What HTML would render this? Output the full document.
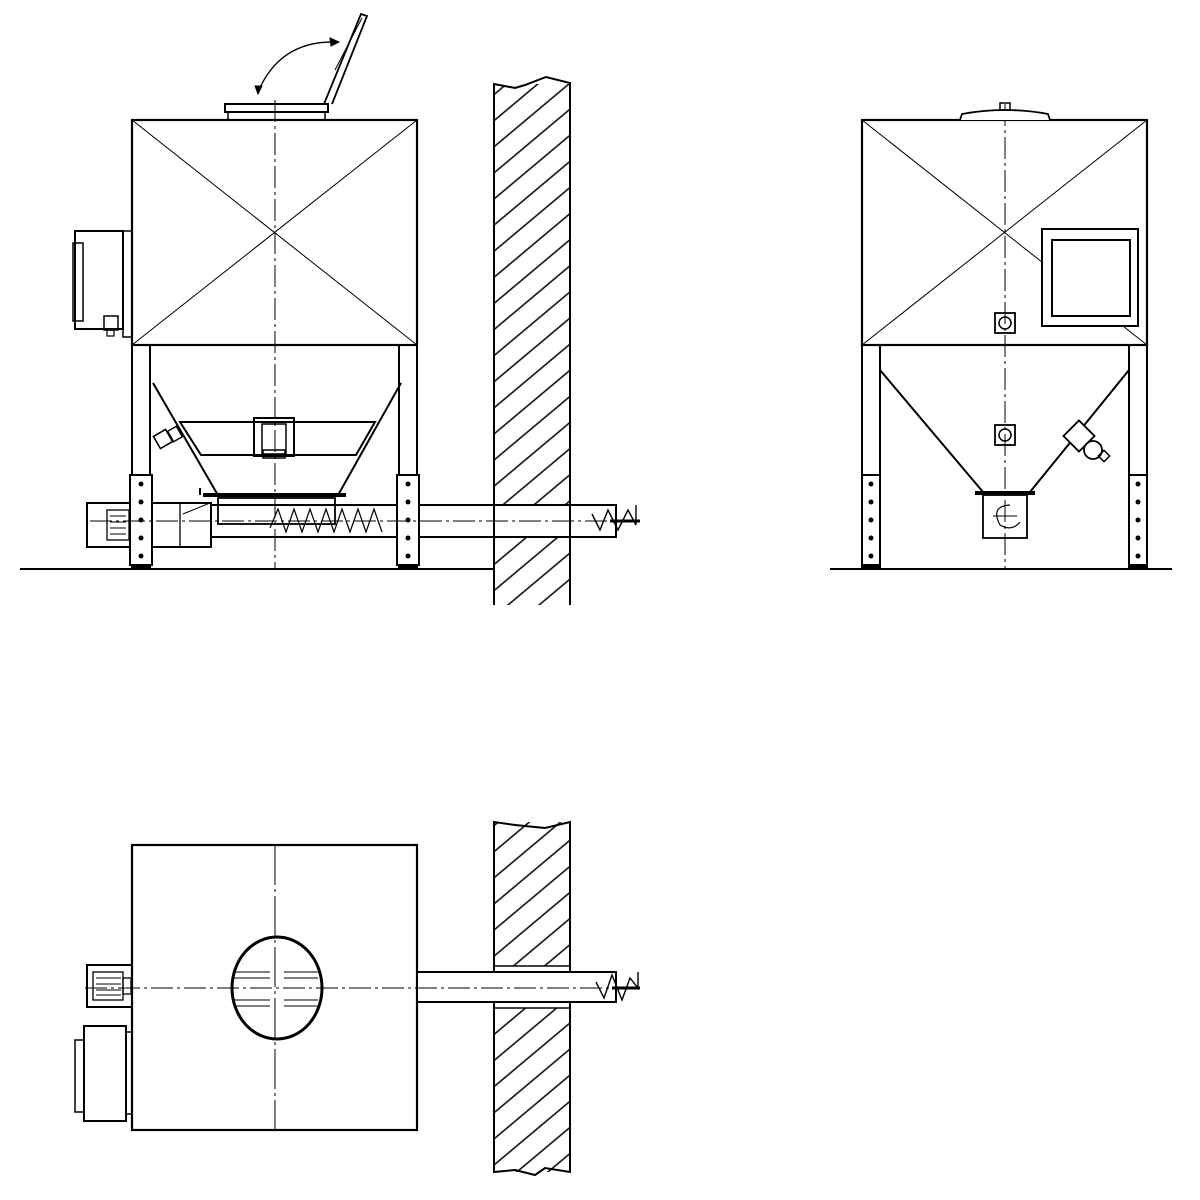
<!DOCTYPE html>
<html><head><style>html,body{margin:0;padding:0;background:#fff}svg{display:block}</style></head>
<body>
<svg width="1200" height="1200" viewBox="0 0 1200 1200" xmlns="http://www.w3.org/2000/svg" fill="none" stroke="#000" stroke-width="2">
<defs>
<pattern id="h" patternUnits="userSpaceOnUse" width="20" height="20" patternTransform="rotate(-40)">
<line x1="0" y1="10" x2="20" y2="10" stroke="#000" stroke-width="1.4"/>
</pattern>
<clipPath id="w1"><path d="M494 84 L515 88 L525 85 L546 77 L570 83 L570 605 L494 605 Z"/></clipPath>
<clipPath id="w2"><path d="M494 822 L570 822 L570 1172 L494 1172 Z"/></clipPath>
</defs>

<!-- FRONT VIEW -->
<line x1="20" y1="569" x2="494" y2="569"/>
<rect x="132" y="120" width="285" height="225" stroke-width="2.2"/>
<line x1="132" y1="120" x2="417" y2="345" stroke-width="1"/>
<line x1="417" y1="120" x2="132" y2="345" stroke-width="1"/>
<line x1="275" y1="100" x2="275" y2="570" stroke-width="1" stroke-dasharray="22 4 3 4"/>
<rect x="225" y="104" width="103" height="8" stroke-width="2"/>
<rect x="228" y="112" width="97" height="8" stroke-width="1.5"/>
<path d="M324 104 L361 14 L367 16 L332 104" stroke-width="1.8"/>
<line x1="335" y1="70" x2="362" y2="18" stroke-width="1"/>
<path d="M258 92 Q280 40 337 42" stroke-width="1.3"/>
<path d="M330 38 L339 42 L331 46 Z" fill="#000" stroke-width="1"/>
<path d="M255 86 L258 94 L262 86 Z" fill="#000" stroke-width="1"/>
<rect x="75" y="231" width="48" height="98" stroke-width="2"/>
<rect x="73" y="243" width="10" height="78" stroke-width="1.5"/>
<rect x="123" y="231" width="9" height="106" stroke-width="1.5"/>
<rect x="104" y="316" width="14" height="14" stroke-width="1.5"/>
<rect x="107" y="330" width="7" height="6" stroke-width="1.2"/>
<rect x="132" y="345" width="18" height="222" stroke-width="2"/>
<rect x="399" y="345" width="18" height="222" stroke-width="2"/>
<line x1="153" y1="383" x2="219" y2="497"/>
<line x1="401" y1="383" x2="337" y2="497"/>
<path d="M180 422 L375 422 L356 455 L201 455 Z" stroke-width="2"/>
<rect x="254" y="418" width="40" height="38" stroke-width="2"/>
<rect x="262" y="424" width="24" height="30" stroke-width="1.5"/>
<rect x="263" y="450" width="22" height="8" stroke-width="1.5"/>
<rect x="156" y="432" width="14" height="14" transform="rotate(-30 163 439)" stroke-width="1.6"/>
<rect x="170" y="428" width="10" height="12" transform="rotate(-30 175 434)" stroke-width="1.4"/>
<line x1="203" y1="495" x2="346" y2="495" stroke-width="4"/>
<line x1="200" y1="488" x2="200" y2="495" stroke-width="2"/>
<rect x="218" y="498" width="117" height="26" stroke-width="1.8"/>
<rect x="211" y="505" width="405" height="32" stroke-width="2"/>
<path d="M270 528 L278 509 L286 532 L294 509 L302 532 L310 509 L318 532 L326 509 L334 532 L342 509 L350 532 L358 509 L366 532 L374 509 L382 532" stroke-width="1.2"/>
<rect x="87" y="503" width="124" height="44" stroke-width="2"/>
<line x1="180" y1="503" x2="180" y2="547" stroke-width="1.3"/>
<rect x="107" y="510" width="22" height="30" stroke-width="1.3"/>
<line x1="110" y1="516" x2="126" y2="516" stroke-width="1"/><line x1="110" y1="522" x2="126" y2="522" stroke-width="1"/><line x1="110" y1="528" x2="126" y2="528" stroke-width="1"/><line x1="110" y1="534" x2="126" y2="534" stroke-width="1"/>
<line x1="183" y1="514" x2="210" y2="503" stroke-width="1"/>
<rect x="130" y="475" width="22" height="90" fill="#fff" stroke-width="2"/>
<rect x="397" y="475" width="22" height="90" fill="#fff" stroke-width="2"/>
<g fill="#000" stroke="none">
<circle cx="141" cy="484" r="2.5"/><circle cx="141" cy="502" r="2.5"/><circle cx="141" cy="520" r="2.5"/><circle cx="141" cy="538" r="2.5"/><circle cx="141" cy="556" r="2.5"/>
<circle cx="408" cy="484" r="2.5"/><circle cx="408" cy="502" r="2.5"/><circle cx="408" cy="520" r="2.5"/><circle cx="408" cy="538" r="2.5"/><circle cx="408" cy="556" r="2.5"/>
</g>
<rect x="494" y="84" width="76" height="521" fill="url(#h)" stroke="none" clip-path="url(#w1)"/>
<rect x="495" y="506" width="74" height="30" fill="#fff" stroke="none"/>
<path d="M494 605 L494 84 L515 88 L525 85 L546 77 L570 83 L570 605" stroke-width="2"/>
<line x1="494" y1="505" x2="616" y2="505" stroke-width="2"/>
<line x1="494" y1="537" x2="616" y2="537" stroke-width="2"/>
<line x1="90" y1="521" x2="640" y2="521" stroke-width="1" stroke-dasharray="22 4 3 4"/>
<path d="M592 514 L600 530 L608 510 L618 530 L628 510 L636 525 L636 505" stroke-width="1.4"/>
<line x1="610" y1="521" x2="640" y2="521" stroke-width="3"/>

<!-- SIDE VIEW -->
<line x1="830" y1="569" x2="1172" y2="569"/>
<rect x="862" y="120" width="285" height="225" stroke-width="2.2"/>
<line x1="862" y1="120" x2="1147" y2="345" stroke-width="1"/>
<line x1="1147" y1="120" x2="862" y2="345" stroke-width="1"/>
<line x1="1005" y1="104" x2="1005" y2="570" stroke-width="1" stroke-dasharray="22 4 3 4"/>
<path d="M960 120 L962 114 Q1005 106 1048 114 L1050 120" stroke-width="1.8" fill="#fff"/>
<rect x="1000" y="103" width="10" height="7" stroke-width="1.5"/>
<rect x="1042" y="229" width="96" height="97" stroke-width="2" fill="#fff"/>
<rect x="1052" y="240" width="78" height="76" stroke-width="2"/>
<rect x="995" y="313" width="20" height="20" stroke-width="1.8"/><circle cx="1005" cy="323" r="6" stroke-width="1.5"/>
<rect x="995" y="425" width="20" height="20" stroke-width="1.8"/><circle cx="1005" cy="435" r="6" stroke-width="1.5"/>
<rect x="862" y="345" width="18" height="222" stroke-width="2"/>
<rect x="1129" y="345" width="18" height="222" stroke-width="2"/>
<rect x="862" y="475" width="18" height="90" fill="#fff" stroke-width="2"/>
<rect x="1129" y="475" width="18" height="90" fill="#fff" stroke-width="2"/>
<g fill="#000" stroke="none">
<circle cx="871" cy="484" r="2.5"/><circle cx="871" cy="502" r="2.5"/><circle cx="871" cy="520" r="2.5"/><circle cx="871" cy="538" r="2.5"/><circle cx="871" cy="556" r="2.5"/>
<circle cx="1138" cy="484" r="2.5"/><circle cx="1138" cy="502" r="2.5"/><circle cx="1138" cy="520" r="2.5"/><circle cx="1138" cy="538" r="2.5"/><circle cx="1138" cy="556" r="2.5"/>
</g>
<line x1="880" y1="370" x2="983" y2="492"/>
<line x1="1129" y1="370" x2="1030" y2="492"/>
<line x1="975" y1="493" x2="1035" y2="493" stroke-width="4"/>
<rect x="983" y="495" width="44" height="43" stroke-width="1.8"/>
<path d="M1010 505 Q990 506 1000 525 Q1012 532 1020 522" stroke-width="1.2"/>
<line x1="993" y1="516" x2="1017" y2="516" stroke-width="1"/>
<rect x="1068" y="425" width="22" height="22" transform="rotate(45 1079 436)" stroke-width="1.8" fill="#fff"/>
<circle cx="1093" cy="450" r="9" stroke-width="1.8" fill="#fff"/>
<rect x="1100" y="452" width="8" height="8" transform="rotate(45 1104 456)" stroke-width="1.5"/>

<!-- PLAN VIEW -->
<rect x="132" y="845" width="285" height="285" stroke-width="2.2"/>
<line x1="275" y1="845" x2="275" y2="1130" stroke-width="1" stroke-dasharray="40 4 3 4"/>
<ellipse cx="277" cy="988" rx="45" ry="51" stroke-width="3"/>
<line x1="234" y1="972" x2="270" y2="972" stroke-width="1"/><line x1="284" y1="972" x2="318" y2="972" stroke-width="1"/>
<line x1="234" y1="978" x2="270" y2="978" stroke-width="1"/><line x1="284" y1="978" x2="318" y2="978" stroke-width="1"/>
<line x1="234" y1="1000" x2="270" y2="1000" stroke-width="1"/><line x1="284" y1="1000" x2="318" y2="1000" stroke-width="1"/>
<line x1="234" y1="1006" x2="270" y2="1006" stroke-width="1"/><line x1="284" y1="1006" x2="318" y2="1006" stroke-width="1"/>
<rect x="87" y="965" width="45" height="42" stroke-width="2"/>
<rect x="93" y="972" width="30" height="28" stroke-width="1.3"/>
<rect x="123" y="978" width="8" height="16" stroke-width="1.3"/>
<line x1="96" y1="978" x2="121" y2="978" stroke-width="1"/><line x1="96" y1="984" x2="121" y2="984" stroke-width="1"/><line x1="96" y1="990" x2="121" y2="990" stroke-width="1"/><line x1="96" y1="995" x2="121" y2="995" stroke-width="1"/>
<rect x="84" y="1026" width="42" height="95" stroke-width="2"/>
<rect x="75" y="1040" width="9" height="72" stroke-width="1.5"/>
<rect x="126" y="1032" width="6" height="82" stroke-width="1.5"/>
<rect x="494" y="822" width="76" height="350" fill="url(#h)" stroke="none" clip-path="url(#w2)"/>
<rect x="495" y="966" width="74" height="42" fill="#fff" stroke="none"/>
<path d="M494 1172 L494 822 L515 825 L545 828 L570 822 L570 1172 L545 1168 L535 1175 L515 1170 Z" stroke-width="2"/>
<line x1="494" y1="966" x2="570" y2="966" stroke-width="1.5"/>
<line x1="494" y1="1008" x2="570" y2="1008" stroke-width="1.5"/>
<rect x="417" y="972" width="199" height="30" stroke-width="2" fill="#fff"/>
<line x1="85" y1="988" x2="640" y2="988" stroke-width="1" stroke-dasharray="22 4 3 4"/>
<path d="M596 982 L604 998 L612 975 L622 1000 L630 978 L638 988 L638 972" stroke-width="1.4"/>
<line x1="612" y1="988" x2="640" y2="988" stroke-width="3"/>
</svg>
</body></html>
